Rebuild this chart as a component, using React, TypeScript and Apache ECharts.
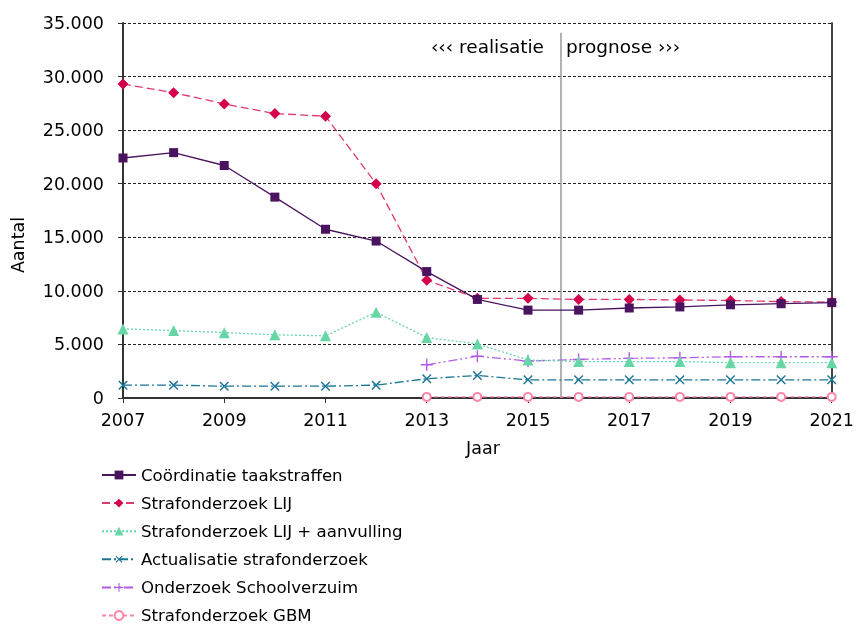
import React, { useEffect, useRef } from "react";
import * as echarts from "echarts";

const years = [2007, 2008, 2009, 2010, 2011, 2012, 2013, 2014, 2015, 2016, 2017, 2018, 2019, 2020, 2021];
const coordinatie = [22400, 22900, 21700, 18750, 15750, 14650, 11800, 9200, 8200, 8200, 8400, 8500, 8700, 8800, 8900];
const lij = [29300, 28500, 27450, 26550, 26300, 20000, 11000, 9300, 9300, 9200, 9200, 9150, 9100, 9000, 8950];
const lijAanvulling = [6450, 6300, 6100, 5900, 5800, 8000, 5650, 5050, 3550, 3400, 3400, 3400, 3300, 3300, 3300];
const actualisatie = [1200, 1200, 1100, 1100, 1100, 1200, 1800, 2100, 1700, 1700, 1700, 1700, 1700, 1700, 1700];
const schoolverzuim = [null, null, null, null, null, null, 3100, 3900, 3450, 3600, 3700, 3750, 3850, 3850, 3850];
const gbm = [null, null, null, null, null, null, 100, 100, 100, 100, 100, 100, 100, 100, 100];
const seriesNames = [
  "Coördinatie taakstraffen",
  "Strafonderzoek LIJ",
  "Strafonderzoek LIJ + aanvulling",
  "Actualisatie strafonderzoek",
  "Onderzoek Schoolverzuim",
  "Strafonderzoek GBM",
];
const separatorYear = 2015.65;
const separatorTop = 34100;
const separatorBottom = 0;

const FONT = "DejaVu Sans";
const PLUS = "path://M4.4,0H5.6V4.4H10V5.6H5.6V10H4.4V5.6H0V4.4H4.4Z";

function pairs(vals: (number | null)[]) {
  const out: [number, number][] = [];
  vals.forEach((v, i) => {
    if (v !== null) out.push([years[i], v]);
  });
  return out;
}

function fmt(v: number) {
  return String(v).replace(/\B(?=(\d{3})+(?!\d))/g, ".");
}

export default function App() {
  const ref = useRef<HTMLDivElement>(null);
  useEffect(() => {
    if (!ref.current) return;
    const chart = echarts.init(ref.current, null, { renderer: "svg" });
    const mk = (
      idx: number,
      vals: (number | null)[],
      color: string,
      lineColor: string,
      dash: any,
      symbol: string,
      size: number,
      extra: any = {}
    ) => ({
      name: seriesNames[idx],
      type: "line",
      data: pairs(vals),
      symbol,
      symbolSize: size,
      showSymbol: true,
      z: 10 - idx,
      itemStyle: { color },
      lineStyle: { color: lineColor, width: 1.3, type: dash },
      ...extra,
    });
    chart.setOption({
      animation: false,
      textStyle: { fontFamily: FONT },
      grid: { left: 123, right: 25, top: 23, bottom: 227, containLabel: false },
      xAxis: {
        type: "value",
        min: 2007,
        max: 2021,
        interval: 2,
        axisLine: { show: true, lineStyle: { color: "#333", width: 2 } },
        axisTick: { show: true, length: 5, lineStyle: { color: "#333", width: 1 } },
        axisLabel: { color: "#000", fontSize: 17.5, fontFamily: FONT, margin: 13, formatter: (v: number) => String(v) },
        splitLine: { show: false },
      },
      yAxis: [
        {
          type: "value",
          min: 0,
          max: 35000,
          interval: 5000,
          axisLine: { show: true, lineStyle: { color: "#333", width: 2 } },
          axisTick: { show: true, length: 5, lineStyle: { color: "#333", width: 1 } },
          axisLabel: { color: "#000", fontSize: 17.5, fontFamily: FONT, margin: 19, formatter: (v: number) => fmt(v) },
          splitLine: { show: true, lineStyle: { color: "#222", width: 1, type: [3, 2] } },
        },
        {
          type: "value",
          min: 0,
          max: 35000,
          interval: 5000,
          position: "right",
          axisLine: { show: true, lineStyle: { color: "#444", width: 2 } },
          axisTick: { show: false },
          axisLabel: { show: false },
          splitLine: { show: false },
        },
      ],
      legend: {
        orient: "vertical",
        left: 101,
        top: 466.5,
        padding: 0,
        height: 200,
        itemWidth: 34,
        itemHeight: 11,
        itemGap: 11.1,
        textStyle: { fontSize: 16.6, fontFamily: FONT, color: "#000" },
        data: seriesNames,
      },
      series: [
        mk(0, coordinatie, "#4a135f", "#4a135f", "solid", "rect", 9, {
          markLine: {
            silent: true,
            symbol: "none",
            label: { show: false },
            lineStyle: { color: "#999", width: 1.5, type: "solid" },
            data: [[{ coord: [separatorYear, separatorTop] }, { coord: [separatorYear, separatorBottom] }]],
          },
        }),
        mk(1, lij, "#d4004b", "#e0386a", [8, 4], "diamond", 11),
        mk(2, lijAanvulling, "#66d6a6", "#66d6a6", [2, 2], "triangle", 11),
        mk(3, actualisatie, "#1b7596", "#1b7596", [9, 3, 2, 3], PLUS, 12, { symbolRotate: 45 }),
        mk(4, schoolverzuim, "#b35be6", "#b35be6", [9, 3, 2, 3, 2, 3], PLUS, 12),
        mk(5, gbm, "#ff85a8", "#ff85a8", [4, 3], "emptyCircle", 8, { itemStyle: { color: "#ff85a8", borderWidth: 1 } }),
      ],
      graphic: [
        {
          type: "text",
          x: 18,
          y: 245,
          rotation: Math.PI / 2,
          style: {
            text: "Aantal",
            fontSize: 17.5,
            fontFamily: FONT,
            fill: "#000",
            align: "center",
            verticalAlign: "middle",
          },
        },
        {
          type: "text",
          x: 483,
          y: 448,
          style: { text: "Jaar", fontSize: 17.5, fontFamily: FONT, fill: "#000", align: "center", verticalAlign: "middle" },
        },
        {
          type: "text",
          x: 544,
          y: 46,
          style: { text: "‹‹‹ realisatie", fontSize: 18.5, fontFamily: FONT, fill: "#000", align: "right", verticalAlign: "middle" },
        },
        {
          type: "text",
          x: 566,
          y: 46,
          style: { text: "prognose ›››", fontSize: 18.5, fontFamily: FONT, fill: "#000", align: "left", verticalAlign: "middle" },
        },
      ],
    });
    return () => chart.dispose();
  }, []);
  return <div ref={ref} style={{ position: "fixed", left: 0, top: 0, width: 857, height: 625 }} />;
}
